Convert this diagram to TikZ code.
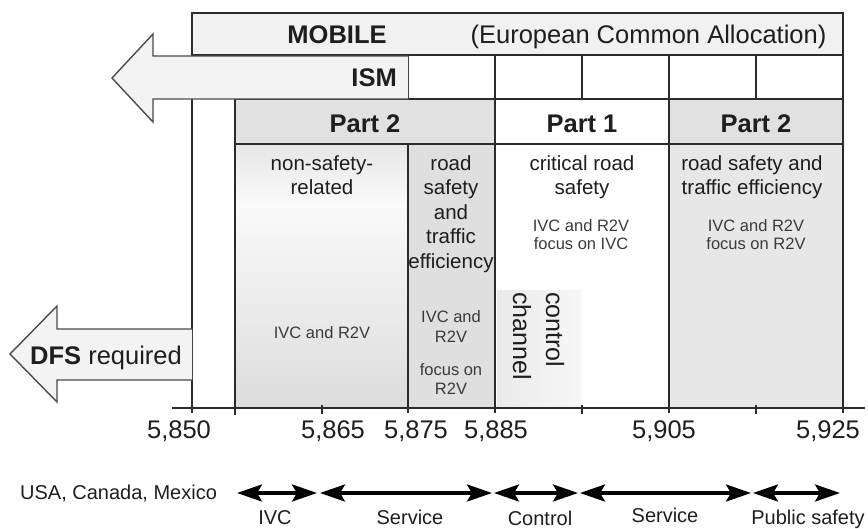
\documentclass[tikz,border=0pt]{standalone}
\usepackage{fontspec}
\setmainfont{Liberation Sans}
\usetikzlibrary{arrows.meta}

\definecolor{ink}{HTML}{1E1E1E}
\definecolor{ink2}{HTML}{3A3A3A}
\definecolor{rule}{HTML}{2B2B2B}
\definecolor{mobilefill}{HTML}{F1F1F1}
\definecolor{partgray}{HTML}{E1E1E1}
\definecolor{colAtop}{HTML}{E6E6E6}
\definecolor{colAmid}{HTML}{FAFAFA}
\definecolor{colAbot}{HTML}{DCDCDC}
\definecolor{colB}{HTML}{DFDFDF}
\definecolor{colD}{HTML}{E7E7E7}
\definecolor{ctrlL}{HTML}{EAEAEA}
\definecolor{ctrlR}{HTML}{F7F7F7}
\definecolor{arrowfill}{HTML}{F3F3F3}
\definecolor{arrowline}{HTML}{4A4A4A}

\begin{document}
\begin{tikzpicture}[x=1pt,y=-1pt,
  frame/.style={draw=rule, line width=1.6pt},
  bigtxt/.style={font=\fontsize{25.5}{30}\selectfont, text=ink, inner sep=0},
  bigbold/.style={font=\fontsize{25.5}{30}\selectfont\bfseries, text=ink, inner sep=0},
  midtxt/.style={font=\fontsize{20.5}{24.5}\selectfont, text=ink, align=center, inner sep=0, anchor=north},
  smalltxt/.style={font=\fontsize{16.5}{19}\selectfont, text=ink2, align=center, inner sep=0, anchor=north},
  bigarrow/.style={fill=arrowfill, draw=arrowline, line width=1.4pt, line join=miter},
  band/.style={draw=black, line width=3.4pt,
    {Stealth[length=25pt,width=17pt,inset=5pt]}-{Stealth[length=25pt,width=17pt,inset=5pt]}},
  bandtxt/.style={font=\fontsize{20}{24}\selectfont, text=ink, inner sep=0, anchor=base},
  freq/.style={font=\fontsize{25.5}{30}\selectfont, text=ink, inner sep=0, anchor=base},
]
\useasboundingbox (0,0) rectangle (868,528);

% ---- background fills ----
\fill[mobilefill] (192,13) rectangle (843,55);
\fill[white] (408,55) rectangle (843,99);
\fill[partgray] (235,99) rectangle (495,144);
\fill[white] (495,99) rectangle (669,144);
\fill[partgray] (669,99) rectangle (843,144);
\shade[top color=colAtop, bottom color=colAmid] (235,144) rectangle (408,205);
\shade[top color=colAmid, bottom color=colAbot] (235,205) rectangle (408,408);
\fill[colB] (408,144) rectangle (495,408);
\shade[left color=ctrlL, right color=ctrlR] (497,290) rectangle (581,408);
\fill[colD] (669,144) rectangle (843,408);

% ---- grid lines ----
\draw[frame] (192,13) rectangle (843,55);
\draw[frame] (192,13) -- (192,413);
\draw[frame] (843,13) -- (843,413);
\draw[frame] (235,99) -- (843,99);
\draw[frame] (235,144) -- (843,144);
\draw[frame] (235,99) -- (235,415);
\draw[frame] (408,55) -- (408,99);
\draw[frame] (408,144) -- (408,413);
\draw[frame] (495,55) -- (495,413);
\draw[frame] (669,55) -- (669,413);
\draw[frame] (582,55) -- (582,99);
\draw[frame] (756,55) -- (756,99);

% ---- frequency axis ----
\draw[rule, line width=2.4pt] (172,408) -- (865,408);
\foreach \t in {322,582,756} \draw[frame] (\t,405) -- (\t,414);

% ---- ISM and DFS arrows ----
\draw[bigarrow] (408,56) -- (153,56) -- (153,34) -- (112,78) -- (153,122) -- (153,99) -- (408,99);
\draw[bigarrow] (192,329) -- (57,329) -- (57,306) -- (10,354) -- (57,402) -- (57,380) -- (192,380);

% ---- header texts ----
\node[bigbold, anchor=base] (mobile) at (337,43.5) {MOBILE};
\node[bigtxt, anchor=base] (eca) at (648.5,43.5) {(European Common Allocation)};
\node[bigbold, anchor=base east] (ism) at (397,86) {ISM};
\node[bigbold, anchor=base] (partA) at (365,132) {Part 2};
\node[bigbold, anchor=base] (partB) at (582,132) {Part 1};
\node[bigbold, anchor=base] (partC) at (756,132) {Part 2};

% ---- column texts ----
\node[midtxt] (nonsafe) at (322,155) {non-safety-\\related};
\node[midtxt] (roadA) at (451,155) {road\\safety\\and\\traffic\\efficiency};
\node[midtxt] (critical) at (582,155) {critical road\\safety};
\node[midtxt] (roadB) at (752,155) {road safety and\\traffic efficiency};

\node[smalltxt] (useA) at (322,326) {IVC and R2V};
\node[smalltxt, font=\fontsize{16.5}{20}\selectfont] (useB) at (451,310) {IVC and\\R2V};
\node[smalltxt] (focusB) at (451,363) {focus on\\R2V};
\node[smalltxt, font=\fontsize{16.5}{18}\selectfont] (useC) at (581,219) {IVC and R2V\\focus on IVC};
\node[smalltxt, font=\fontsize{16.5}{18}\selectfont] (useD) at (756,219) {IVC and R2V\\focus on R2V};

\node[rotate=-90, anchor=north west, align=left, inner sep=0, text=ink,
      font=\fontsize{25}{33}\selectfont] (ctrl) at (564.5,292) {control\\channel};

\node[anchor=base west, inner sep=0, text=ink, font=\fontsize{25.5}{30}\selectfont]
  (dfs) at (30,364) {\textbf{DFS} required};

% ---- frequency labels ----
\node[freq] (f5850) at (179,438) {5,850};
\node[freq] (f5865) at (333,438) {5,865};
\node[freq] (f5875) at (416,438) {5,875};
\node[freq] (f5885) at (496,438) {5,885};
\node[freq] (f5905) at (664,438) {5,905};
\node[freq] (f5925) at (828,438) {5,925};

% ---- North American band plan ----
\node[anchor=base west, inner sep=0, text=ink, font=\fontsize{20}{24}\selectfont]
  (usa) at (20,499) {USA, Canada, Mexico};
\coordinate (a1) at (237,493); \coordinate (a2) at (317,493);
\coordinate (b1) at (320,493); \coordinate (b2) at (492,493);
\coordinate (c1) at (494,493); \coordinate (c2) at (578,493);
\coordinate (d1) at (580,493); \coordinate (d2) at (751,493);
\coordinate (e1) at (753,493); \coordinate (e2) at (840,493);
\draw[band] (a1) -- (a2);
\draw[band] (b1) -- (b2);
\draw[band] (c1) -- (c2);
\draw[band] (d1) -- (d2);
\draw[band] (e1) -- (e2);
\node[bandtxt] (ivc) at (275,524) {IVC};
\node[bandtxt] (svc1) at (410,524) {Service};
\node[bandtxt] (ctl) at (540,525) {Control};
\node[bandtxt] (svc2) at (665,522) {Service};
\node[bandtxt] (pub) at (808,524) {Public safety};
\end{tikzpicture}
\end{document}
